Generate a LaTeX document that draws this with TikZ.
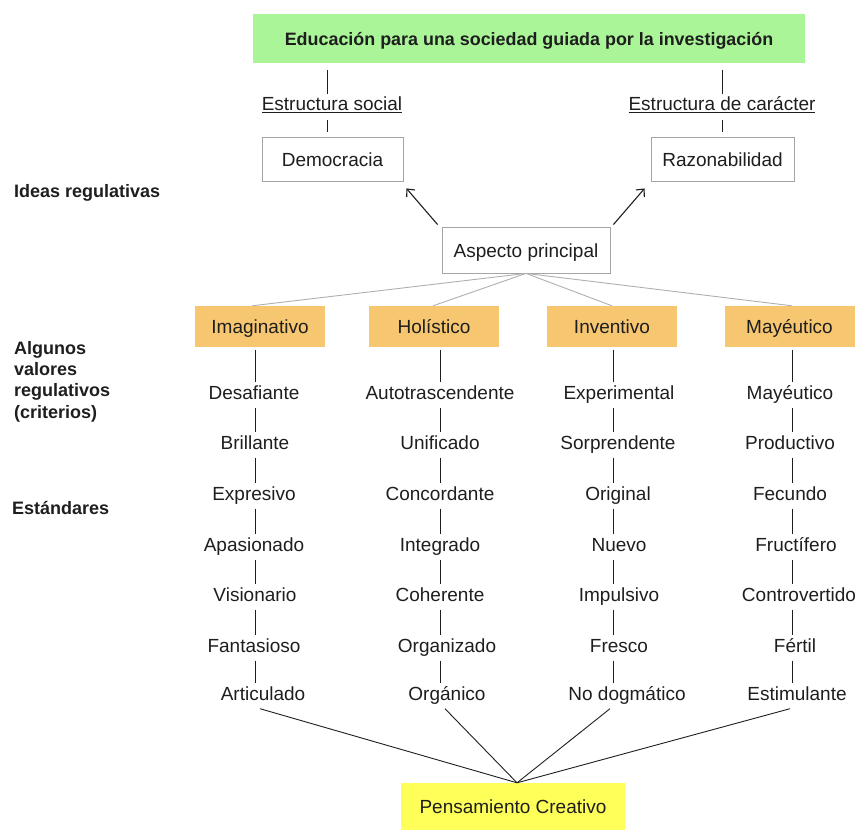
\documentclass[tikz,border=0pt]{standalone}
\usepackage{fontspec}
\setmainfont{Liberation Sans}
\usetikzlibrary{arrows.meta}

\definecolor{titlegreen}{RGB}{169,245,152}
\definecolor{critorange}{RGB}{246,198,112}
\definecolor{resyellow}{RGB}{255,255,90}
\definecolor{boxgray}{RGB}{165,165,165}
\definecolor{linkgray}{RGB}{175,175,175}
\definecolor{ink}{RGB}{30,30,30}

\tikzset{
  txt/.style={font=\fontsize{19}{22}\selectfont},
  boxtext/.style={text height=16pt, text depth=2pt, text=ink},
  item/.style={txt, inner xsep=2pt, inner ysep=4pt, text height=13pt, text depth=4pt, text=ink},
  head/.style={anchor=west, inner sep=0pt, text=ink, align=left,
               font=\bfseries\fontsize{18}{21.3}\selectfont},
  wbox/.style={txt, boxtext, draw=boxgray, line width=0.8pt, fill=white, minimum height=44pt},
  obox/.style={txt, boxtext, fill=critorange, minimum width=130pt, minimum height=41pt},
  vline/.style={draw=ink, line width=0.9pt},
  glink/.style={draw=linkgray, line width=0.9pt},
  arr/.style={draw=ink, line width=1.1pt, -{Straight Barb[length=6pt,width=11pt]}},
}

\begin{document}
\begin{tikzpicture}[x=1pt, y=-1pt]
\useasboundingbox (0,0) rectangle (858,829);

% top goal
\node[boxtext, fill=titlegreen, minimum width=552pt, minimum height=49pt,
      font=\bfseries\fontsize{17.9}{20}\selectfont] (title) at (529,38.5)
      {Educación para una sociedad guiada por la investigación};

% column / branch x positions
\coordinate (xl) at (327,0);
\coordinate (xr) at (722,0);
\coordinate (x1) at (255,0);
\coordinate (x2) at (440,0);
\coordinate (x3) at (613,0);
\coordinate (x4) at (792,0);
\coordinate (e1) at (260,0);
\coordinate (e2) at (445,0);
\coordinate (e3) at (610,0);
\coordinate (e4) at (790,0);

% structure labels and regulative ideas
\node[item, inner ysep=3pt] (es) at (332,106) {\underline{Estructura social}};
\node[item, inner ysep=3pt] (ec) at (722,106) {\underline{Estructura de carácter}};
\node[wbox, minimum width=141pt] (dem) at (332.5,159) {Democracia};
\node[wbox, minimum width=143pt] (raz) at (722.5,159) {Razonabilidad};

\draw[vline, shorten <=7pt] (title.south -| xl) -- (es.north -| xl);
\draw[vline, shorten <=2pt, shorten >=5pt] (es.south -| xl) -- (dem.north -| xl);
\draw[vline, shorten <=7pt] (title.south -| xr) -- (ec.north -| xr);
\draw[vline, shorten <=2pt, shorten >=5pt] (ec.south -| xr) -- (raz.north -| xr);

% main aspect
\node[wbox, minimum width=168pt, minimum height=46pt] (asp) at (526,250) {Aspecto principal};
\draw[arr] ([xshift=-4pt,yshift=2pt]asp.north west) -- ([xshift=3pt,yshift=-7pt]dem.south east);
\draw[arr] ([xshift=3pt,yshift=2pt]asp.north east) -- ([xshift=-6pt,yshift=-7pt]raz.south west);

% criteria
\node[obox] (c1) at (260,326.5) {Imaginativo};
\node[obox] (c2) at (434,326.5) {Holístico};
\node[obox] (c3) at (612,326.5) {Inventivo};
\node[obox] (c4) at (789.5,326.5) {Mayéutico};

\draw[glink] (asp.south) -- ([xshift=-8pt]c1.north);
\draw[glink] (asp.south) -- ([xshift=-1pt]c2.north);
\draw[glink] (asp.south) -- (c3.north);
\draw[glink] (asp.south) -- ([xshift=2.5pt]c4.north);

% side headings
\node[head] (h1) at (14,193) {Ideas regulativas};
\node[head, anchor=north west] (h2) at (14,341) {Algunos\\valores\\regulativos\\(criterios)};
\node[head] (h3) at (12,508) {Estándares};

% standards, column by column
\foreach \col/\colx/\list in {
  1/x1/{254/Desafiante,255/Brillante,254/Expresivo,254/Apasionado,255/Visionario,254/Fantasioso,263/Articulado},
  2/x2/{440/Autotrascendente,440/Unificado,440/Concordante,440/Integrado,440/Coherente,447/Organizado,447/Orgánico},
  3/x3/{619/Experimental,618/Sorprendente,618/Original,619/Nuevo,619/Impulsivo,619/Fresco,627/No dogmático},
  4/x4/{790/Mayéutico,790/Productivo,790/Fecundo,796/Fructífero,799/Controvertido,795/Fértil,797/Estimulante}} {
  \foreach \tx/\word [count=\r] in \list {
    \pgfmathsetmacro{\ty}{{395,445,496,547,597,648,696}[\r-1]}
    \node[item] (s\col-\r) at (\tx,\ty) {\word};
  }
  \draw[vline, shorten <=3pt] (c\col.south -| \colx) -- (s\col-1.north -| \colx);
  \foreach \r [evaluate=\r as \n using int(\r+1)] in {1,...,6} {
    \draw[vline] (s\col-\r.south -| \colx) -- (s\col-\n.north -| \colx);
  }
}

% outcome
\node[txt, boxtext, fill=resyellow, minimum width=224pt, minimum height=47pt] (pc) at (513,806.5) {Pensamiento Creativo};
\draw[vline] (s1-7.south -| e1) -- ([xshift=4pt]pc.north);
\draw[vline] (s2-7.south -| e2) -- ([xshift=4pt]pc.north);
\draw[vline] (s3-7.south -| e3) -- ([xshift=4pt]pc.north);
\draw[vline] (s4-7.south -| e4) -- ([xshift=4pt]pc.north);
\end{tikzpicture}
\end{document}
